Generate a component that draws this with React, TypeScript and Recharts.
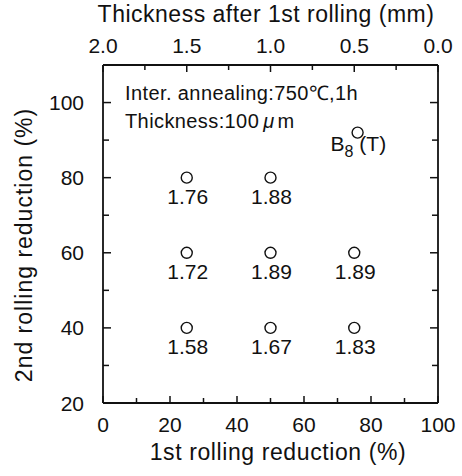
import { ScatterChart, Scatter, XAxis, YAxis, Customized } from "recharts";

const FONT = '"Liberation Sans", Arial, Helvetica, sans-serif';
const INK = "#111";

// measured points: 1st rolling reduction (%), 2nd rolling reduction (%), r-value label
const firstReduction = [25, 50, 75, 25, 50, 75, 25, 50];
const secondReduction = [40, 40, 40, 60, 60, 60, 80, 80];
const rValue = ["1.58", "1.67", "1.83", "1.72", "1.89", "1.89", "1.76", "1.88"];

// B8 (T) reference point
const texFirst = [76];
const texSecond = [92];

const bottomTicks = [0, 10, 20, 30, 40, 50, 60, 70, 80, 90, 100];
const leftTicks = [20, 30, 40, 50, 60, 70, 80, 90, 100];
const thicknessTicks = [0, 0.25, 0.5, 0.75, 1, 1.25, 1.5, 1.75, 2];

const points = firstReduction.map((x, i) => ({
  x,
  y: secondReduction[i],
  r: rValue[i],
}));
const texPoints = texFirst.map((x, i) => ({ x, y: texSecond[i] }));

function BottomTick({ x, y, payload }: any) {
  const v = payload.value;
  const major = v % 20 === 0;
  return (
    <g>
      <line x1={x} y1={y} x2={x} y2={y - (major ? 7 : 5)} stroke={INK} strokeWidth={1.5} />
      {major && (
        <text x={x} y={y + 29} textAnchor="middle" fontSize={21} fill={INK} fontFamily={FONT}>
          {v}
        </text>
      )}
    </g>
  );
}

function TopTick({ x, y, payload }: any) {
  const v = payload.value;
  const major = Math.abs(v * 2 - Math.round(v * 2)) < 1e-6;
  return (
    <g>
      <line x1={x} y1={y} x2={x} y2={y + (major ? 7 : 5)} stroke={INK} strokeWidth={1.5} />
      {major && (
        <text x={x} y={y - 12} textAnchor="middle" fontSize={21} fill={INK} fontFamily={FONT}>
          {v.toFixed(1)}
        </text>
      )}
    </g>
  );
}

function LeftTick({ x, y, payload }: any) {
  const v = payload.value;
  const major = v % 20 === 0;
  return (
    <g>
      <line x1={x} y1={y} x2={x + (major ? 8 : 6)} y2={y} stroke={INK} strokeWidth={1.5} />
      {major && (
        <text x={x - 19} y={y + 7.5} textAnchor="end" fontSize={21} fill={INK} fontFamily={FONT}>
          {v}
        </text>
      )}
    </g>
  );
}

function RightTick({ x, y, payload }: any) {
  const major = payload.value % 20 === 0;
  return <line x1={x} y1={y} x2={x - (major ? 8 : 6)} y2={y} stroke={INK} strokeWidth={1.5} />;
}

function RPoint(props: any) {
  const { cx, cy, payload } = props;
  return (
    <g>
      <circle cx={cx} cy={cy} r={5.5} fill="#fff" stroke={INK} strokeWidth={1.4} />
      <text x={cx + 1} y={cy + 26} textAnchor="middle" fontSize={21} fill={INK} fontFamily={FONT}>
        {payload.r}
      </text>
    </g>
  );
}

function TexPoint(props: any) {
  const { cx, cy } = props;
  return (
    <g>
      <circle cx={cx} cy={cy} r={5.5} fill="#fff" stroke={INK} strokeWidth={1.4} />
      <text x={cx - 27} y={cy + 18} fontSize={21} fill={INK} fontFamily={FONT}>
        B
        <tspan fontSize={16} dy={6}>8</tspan>
        <tspan dy={-6}> (T)</tspan>
      </text>
    </g>
  );
}

function Annotations() {
  return (
    <g fontFamily={FONT} fill={INK}>
      <text x={266} y={22} textAnchor="middle" fontSize={23} letterSpacing={0.5}>
        Thickness after 1st rolling (mm)
      </text>
      <text x={278} y={460} textAnchor="middle" fontSize={23} letterSpacing={0.6}>
        1st rolling reduction (%)
      </text>
      <text
        x={32}
        y={245}
        textAnchor="middle"
        fontSize={23}
        letterSpacing={1}
        transform="rotate(-90, 32, 245)"
      >
        2nd rolling reduction (%)
      </text>
      <text x={125} y={100} fontSize={20} letterSpacing={0.4}>
        Inter. annealing:750℃,1h
      </text>
      <text x={125} y={128} fontSize={20} letterSpacing={0.4}>
        Thickness:100
        <tspan dx={4} fontStyle="italic">μ</tspan>
        <tspan dx={3}>m</tspan>
      </text>
    </g>
  );
}

export default function App() {
  return (
    <div style={{ position: "absolute", left: 0, top: 0, background: "#fff" }}>
      <ScatterChart width={462} height={476} margin={{ top: 0, right: 0, bottom: 0, left: 0 }}>
        <XAxis
          xAxisId="top"
          orientation="top"
          type="number"
          dataKey="x"
          domain={[0, 2]}
          reversed
          allowDataOverflow
          ticks={thicknessTicks}
          interval={0}
          height={65}
          tickSize={0}
          tickMargin={0}
          tickLine={false}
          tick={<TopTick />}
          axisLine={{ stroke: INK, strokeWidth: 1.8 }}
        />
        <XAxis
          xAxisId="bottom"
          orientation="bottom"
          type="number"
          dataKey="x"
          domain={[0, 100]}
          allowDataOverflow
          ticks={bottomTicks}
          interval={0}
          height={73}
          tickSize={0}
          tickMargin={0}
          tickLine={false}
          tick={<BottomTick />}
          axisLine={{ stroke: INK, strokeWidth: 1.8 }}
        />
        <YAxis
          yAxisId="left"
          orientation="left"
          type="number"
          dataKey="y"
          domain={[20, 110]}
          allowDataOverflow
          ticks={leftTicks}
          interval={0}
          width={103}
          tickSize={0}
          tickMargin={0}
          tickLine={false}
          tick={<LeftTick />}
          axisLine={{ stroke: INK, strokeWidth: 1.8 }}
        />
        <YAxis
          yAxisId="right"
          orientation="right"
          type="number"
          dataKey="y"
          domain={[20, 110]}
          allowDataOverflow
          ticks={leftTicks}
          interval={0}
          width={24}
          tickSize={0}
          tickMargin={0}
          tickLine={false}
          tick={<RightTick />}
          axisLine={{ stroke: INK, strokeWidth: 1.8 }}
        />
        <Scatter
          data={points}
          xAxisId="bottom"
          yAxisId="left"
          shape={<RPoint />}
          isAnimationActive={false}
        />
        <Scatter
          data={texPoints}
          xAxisId="bottom"
          yAxisId="left"
          shape={<TexPoint />}
          isAnimationActive={false}
        />
        <Customized component={<Annotations />} />
      </ScatterChart>
    </div>
  );
}
